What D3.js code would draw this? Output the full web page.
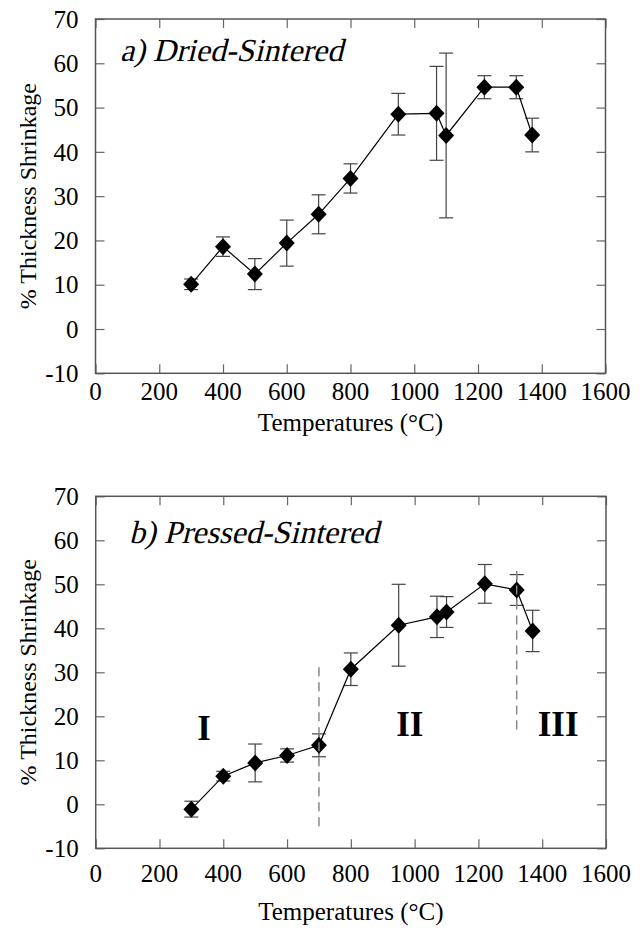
<!DOCTYPE html>
<html>
<head>
<meta charset="utf-8">
<script src="https://cdn.jsdelivr.net/npm/d3@7"></script>
<style>
  body { margin: 0; background: #fff; }
</style>
</head>
<body>
<div id="chart"></div>
<script>
// temperatures (°C) used in both panels
const tempsA = [300, 400, 500, 600, 700, 800, 950, 1070, 1100, 1220, 1320, 1370];
const shrinkA = [10.1, 18.6, 12.4, 19.4, 25.9, 34.0, 48.5, 48.7, 43.7, 54.6, 54.6, 43.8];
const errA = [1.2, 2.2, 3.5, 5.2, 4.4, 3.3, 4.7, 10.6, 18.6, 2.6, 2.6, 3.8];

const tempsB = [300, 400, 500, 600, 700, 800, 950, 1070, 1100, 1220, 1320, 1370];
const shrinkB = [-1.1, 6.4, 9.4, 11.1, 13.4, 30.7, 40.7, 42.6, 43.7, 50.1, 48.7, 39.4];
const errB = [1.8, 1.1, 4.3, 1.5, 2.6, 3.7, 9.3, 4.7, 3.5, 4.4, 3.5, 4.7];

const xTicks = [0, 200, 400, 600, 800, 1000, 1200, 1400, 1600];
const yTicks = [-10, 0, 10, 20, 30, 40, 50, 60, 70];

// stage boundaries in panel b
const stageBounds = [700, 1320];
const stageLow = [-5, 17];
const stageHigh = [32, 53];
const stageNames = ["I", "II", "III"];
const stageX = [340, 985, 1450];
const stageY = [14.6, 15.6, 15.6];

const width = 644, height = 928;

const svg = d3.select("#chart").append("svg")
    .attr("width", width)
    .attr("height", height);

// every label is set in Liberation Serif (no italic face here, so titles get a skew)
function label(g) {
    return g.append("text").attr("font-family", "Liberation Serif").attr("fill", "#000");
}

function drawPanel(opts) {
    const x = d3.scaleLinear().domain([0, 1600]).range([opts.left, opts.right]);
    const y = d3.scaleLinear().domain([-10, 70]).range([opts.bottom, opts.top]);
    const g = svg.append("g");

    // inward ticks on all four sides
    const tick = 9;
    g.append("g").attr("transform", `translate(0,${opts.bottom})`)
        .call(d3.axisBottom(x).tickValues(xTicks).tickSize(-tick).tickFormat(""));
    g.append("g").attr("transform", `translate(0,${opts.top})`)
        .call(d3.axisTop(x).tickValues(xTicks).tickSize(-tick).tickFormat(""));
    g.append("g").attr("transform", `translate(${opts.left},0)`)
        .call(d3.axisLeft(y).tickValues(yTicks).tickSize(-tick).tickFormat(""));
    g.append("g").attr("transform", `translate(${opts.right},0)`)
        .call(d3.axisRight(y).tickValues(yTicks).tickSize(-tick).tickFormat(""));
    g.selectAll(".domain").remove();
    g.selectAll(".tick line").attr("stroke", "#666").attr("stroke-width", 1.2);

    // frame
    g.append("rect")
        .attr("x", opts.left).attr("y", opts.top)
        .attr("width", opts.right - opts.left).attr("height", opts.bottom - opts.top)
        .attr("fill", "none").attr("stroke", "#555").attr("stroke-width", 1.5);

    // tick labels
    xTicks.forEach(d => {
        label(g).attr("x", x(d)).attr("y", opts.bottom + opts.xLabelGap)
            .attr("text-anchor", "middle").attr("font-size", 25)
            .text(d);
    });
    yTicks.forEach(d => {
        label(g).attr("x", opts.left - 17).attr("y", y(d))
            .attr("dy", "0.35em")
            .attr("text-anchor", "end").attr("font-size", 25)
            .text(d);
    });

    // axis titles
    label(g).attr("x", (opts.left + opts.right) / 2).attr("y", opts.bottom + opts.xTitleGap)
        .attr("text-anchor", "middle").attr("font-size", 25)
        .text("Temperatures (°C)");
    label(g).attr("transform", `translate(36,${(opts.top + opts.bottom) / 2}) rotate(-90)`)
        .attr("text-anchor", "middle").attr("font-size", 24)
        .text("% Thickness Shrinkage");

    // panel title, slanted
    label(g).attr("transform", `translate(${opts.titleX},${opts.titleY}) skewX(-14)`)
        .attr("font-size", 32)
        .text(opts.title);

    const pts = opts.temps.map((t, i) => ({ t: t, v: opts.vals[i], e: opts.errs[i] }));

    // error bars
    const eb = g.append("g").attr("stroke", "#444").attr("stroke-width", 1.2);
    pts.forEach(p => {
        eb.append("line").attr("x1", x(p.t)).attr("x2", x(p.t))
            .attr("y1", y(p.v - p.e)).attr("y2", y(p.v + p.e));
        [p.v - p.e, p.v + p.e].forEach(v => {
            eb.append("line").attr("x1", x(p.t) - 7).attr("x2", x(p.t) + 7)
                .attr("y1", y(v)).attr("y2", y(v));
        });
    });

    // connecting line
    g.append("path").datum(pts)
        .attr("fill", "none").attr("stroke", "#000").attr("stroke-width", 1.2)
        .attr("d", d3.line().x(d => x(d.t)).y(d => y(d.v)));

    // diamond markers
    g.selectAll(".pt").data(pts).enter().append("path")
        .attr("transform", d => `translate(${x(d.t)},${y(d.v)})`)
        .attr("d", "M0,-8.5L8,0L0,8.5L-8,0Z")
        .attr("fill", "#000");

    return { x: x, y: y, g: g };
}

drawPanel({
    left: 95.5, right: 605.5, top: 19, bottom: 373.3,
    xLabelGap: 27, xTitleGap: 58,
    title: "a) Dried-Sintered", titleX: 120, titleY: 61,
    temps: tempsA, vals: shrinkA, errs: errA
});

const pb = drawPanel({
    left: 95.7, right: 606, top: 496.3, bottom: 848.3,
    xLabelGap: 34, xTitleGap: 72,
    title: "b) Pressed-Sintered", titleX: 129, titleY: 543,
    temps: tempsB, vals: shrinkB, errs: errB
});

// stage separators and labels
stageBounds.forEach((b, i) => {
    pb.g.append("line")
        .attr("x1", pb.x(b)).attr("x2", pb.x(b))
        .attr("y1", pb.y(stageLow[i])).attr("y2", pb.y(stageHigh[i]))
        .attr("stroke", "#888").attr("stroke-width", 1.5)
        .attr("stroke-dasharray", "9,6");
});
stageNames.forEach((d, i) => {
    label(pb.g).attr("x", pb.x(stageX[i])).attr("y", pb.y(stageY[i]))
        .attr("text-anchor", "middle")
        .attr("font-size", 35).attr("font-weight", "bold")
        .text(d);
});
</script>
</body>
</html>
